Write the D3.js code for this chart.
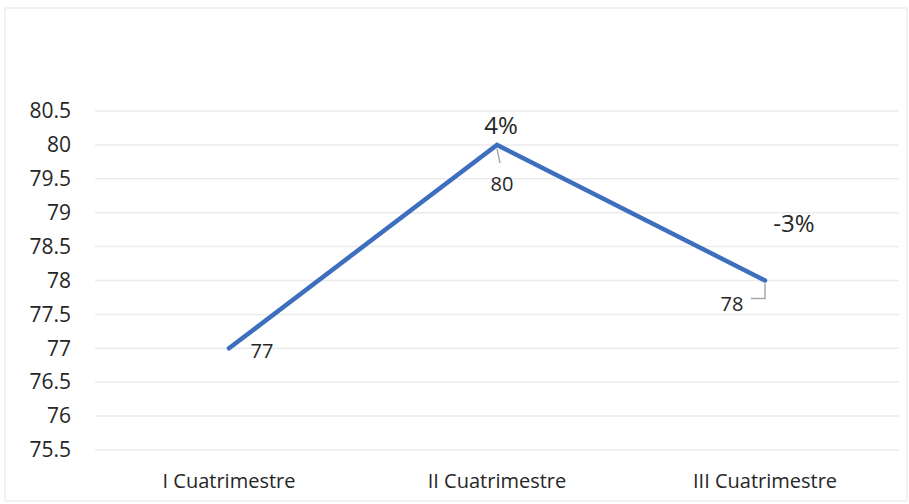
<!DOCTYPE html>
<html>
<head>
<meta charset="utf-8">
<script src="https://cdn.jsdelivr.net/npm/d3@7"></script>
<style>
  html, body { margin: 0; padding: 0; background: #fff; }
  svg { display: block; }
  text { font-family: "Open Sans", "Liberation Sans", sans-serif; fill: #262626; }
</style>
</head>
<body>
<svg id="chart" width="909" height="504"></svg>
<script>
const categories = ["I Cuatrimestre", "II Cuatrimestre", "III Cuatrimestre"];
const values = [77, 80, 78];
const changeLabels = ["", "4%", "-3%"];
const yTicks = [75.5, 76, 76.5, 77, 77.5, 78, 78.5, 79, 79.5, 80, 80.5];

const svg = d3.select("#chart");

// faint outer frame
svg.append("rect").attr("x", 5).attr("y", 8).attr("width", 902).attr("height", 493)
  .attr("fill", "none").attr("stroke", "#eeeeee").attr("stroke-width", 1.5);

const x = d3.scaleBand().domain(categories).range([95, 899]);
const y = d3.scaleLinear().domain([75.5, 80.5]).range([450, 111]);

// gridlines
svg.append("g").selectAll("line").data(yTicks).join("line")
  .attr("x1", 95).attr("x2", 899)
  .attr("y1", d => y(d)).attr("y2", d => y(d))
  .attr("stroke", "#ebebeb").attr("stroke-width", 1.5);

// y axis
const yAxis = d3.axisLeft(y).tickValues(yTicks).tickSize(0).tickPadding(0)
  .tickFormat(d => d3.format("")(d));
const gy = svg.append("g").attr("transform", "translate(71,0)").call(yAxis);
gy.select(".domain").remove();
gy.selectAll("text").style("font-size", "21px").attr("fill", "#262626")
  .style("font-family", '"Open Sans", sans-serif');

// x axis
const xAxis = d3.axisBottom(x).tickSize(0).tickPadding(0);
const gx = svg.append("g").attr("transform", "translate(0,474)").call(xAxis);
gx.select(".domain").remove();
gx.selectAll("text").style("font-size", "20px").attr("fill", "#262626")
  .style("font-family", '"Open Sans", sans-serif');

const cx = (d, i) => x(categories[i]) + x.bandwidth() / 2;

// line
const line = d3.line().x((d, i) => cx(d, i)).y(d => y(d));
svg.append("path").datum(values).attr("d", line)
  .attr("fill", "none").attr("stroke", "#3d6fbe").attr("stroke-width", 4.5)
  .attr("stroke-linejoin", "miter").attr("stroke-linecap", "round");

// leader lines
const px1 = cx(null, 1), py1 = y(values[1]);
svg.append("path").attr("d", `M${px1},${py1 + 4} L${px1 + 3},${py1 + 18}`)
  .attr("stroke", "#a6a6a6").attr("stroke-width", 1.5).attr("fill", "none");
const px2 = cx(null, 2), py2 = y(values[2]);
svg.append("path").attr("d", `M${px2},${py2 + 3} L${px2},${py2 + 18} L${px2 - 14},${py2 + 18}`)
  .attr("stroke", "#a6a6a6").attr("stroke-width", 1.5).attr("fill", "none");

// value labels
const valOffsets = [[33, 4], [5, 41], [-33, 25]];
svg.append("g").selectAll("text").data(values).join("text")
  .attr("x", (d, i) => cx(d, i) + valOffsets[i][0])
  .attr("y", (d, i) => y(d) + valOffsets[i][1])
  .attr("text-anchor", "middle").attr("dominant-baseline", "middle")
  .style("font-size", "20px").attr("fill", "#404040")
  .text(d => d);

// change labels
const chOffsets = [[0, 0], [4, -17], [29, -55]];
svg.append("g").selectAll("text").data(changeLabels).join("text")
  .attr("x", (d, i) => cx(d, i) + chOffsets[i][0])
  .attr("y", (d, i) => y(values[i]) + chOffsets[i][1])
  .attr("text-anchor", "middle").attr("dominant-baseline", "middle")
  .style("font-size", "24px").attr("fill", "#262626")
  .text(d => d);
</script>
</body>
</html>
